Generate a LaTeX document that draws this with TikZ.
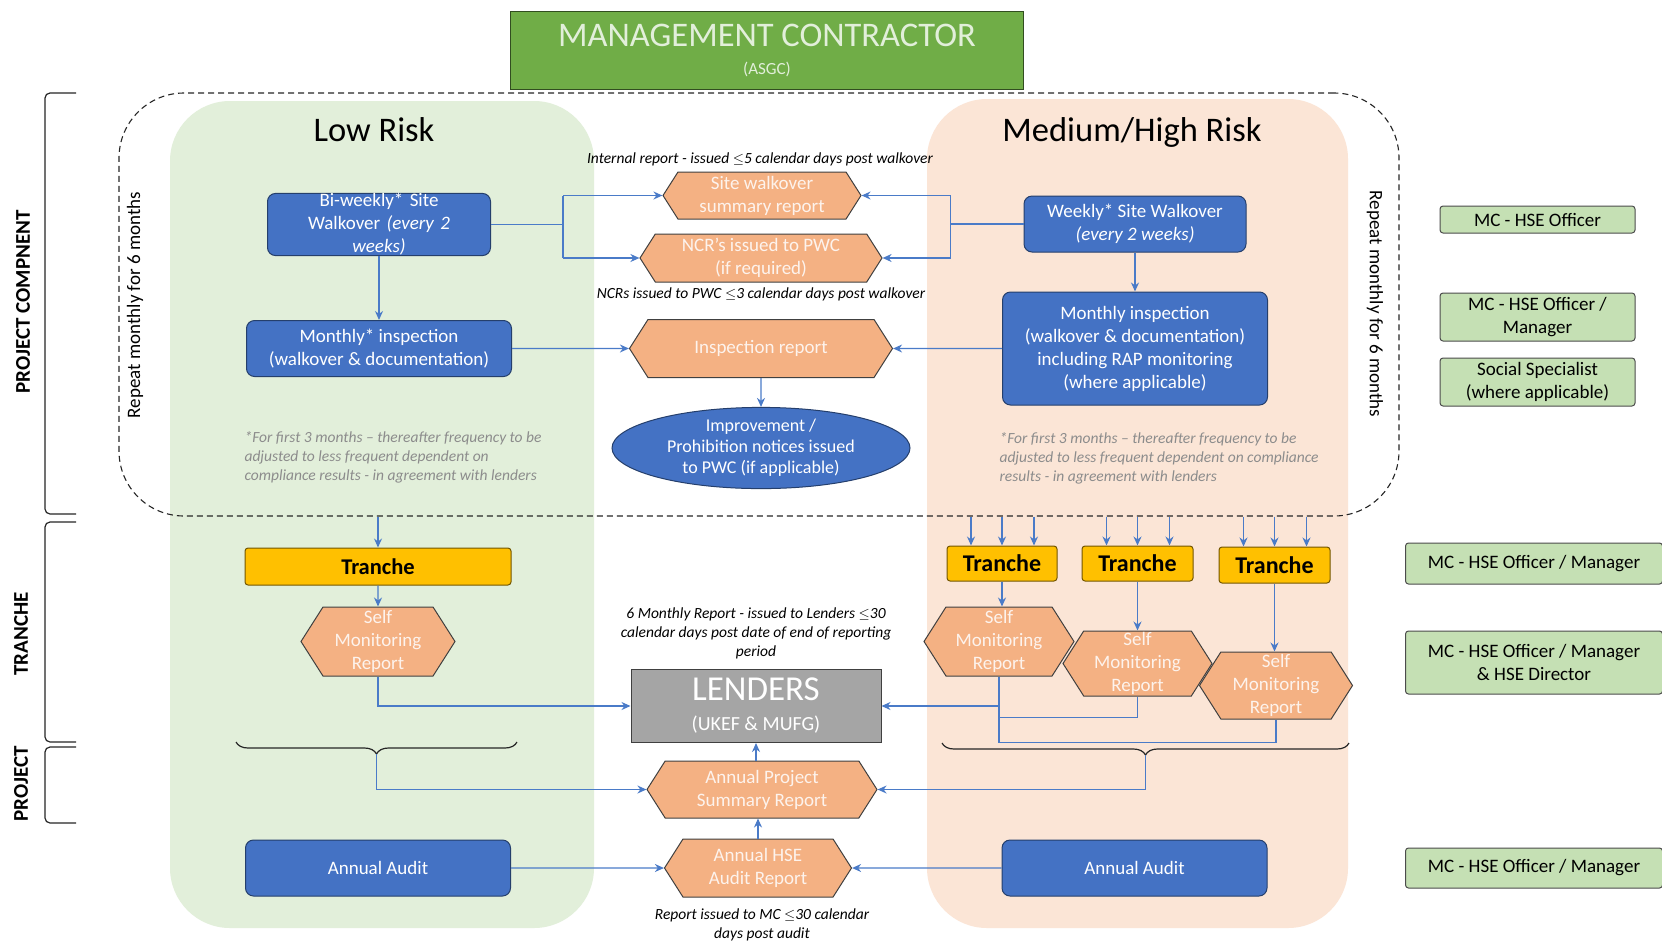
\documentclass[tikz,border=0pt]{standalone}
\usepackage{fontspec}
\setmainfont{Carlito}
\usetikzlibrary{arrows.meta,shapes.symbols,shapes.geometric,decorations.pathreplacing}

\definecolor{mcgreen}{HTML}{70AD47}
\definecolor{lowbg}{HTML}{E2EFDA}
\definecolor{medbg}{HTML}{FBE5D6}
\definecolor{boxblue}{HTML}{4472C4}
\definecolor{hexorange}{HTML}{F4B183}
\definecolor{rolegreen}{HTML}{C5E0B4}
\definecolor{tranchey}{HTML}{FFC000}
\definecolor{lendgray}{HTML}{A5A5A5}
\definecolor{linkblue}{HTML}{4A7BC8}
\definecolor{notegray}{HTML}{8C8C8C}

\tikzset{
  task/.style={draw=boxblue!55!black, fill=boxblue, rounded corners=8pt, text=white,
    align=center, inner sep=0pt, line width=1pt, font=\fontsize{19}{23}\selectfont},
  report/.style={signal, signal to=west and east, signal pointer angle=115,
    draw=black!75, fill=hexorange, text=medbg!45!white, align=center, inner sep=0pt,
    line width=1pt, font=\fontsize{19}{23}\selectfont},
  role/.style={draw=black!70, fill=rolegreen, rounded corners=3pt, align=center,
    inner sep=0pt, line width=1pt, font=\fontsize{19}{23}\selectfont},
  tranche/.style={draw=tranchey!45!black, fill=tranchey, rounded corners=3pt,
    inner sep=0pt, line width=1pt, font=\bfseries\fontsize{24}{26}\selectfont},
  note/.style={font=\itshape\fontsize{15.5}{19}\selectfont, align=center},
  greynote/.style={note, text=notegray, align=left, anchor=west},
  stage/.style={rotate=90, font=\bfseries\fontsize{21}{24}\selectfont},
  link/.style={draw=linkblue, line width=1.3pt, -{Stealth[length=9pt,width=8pt]}},
  wire/.style={draw=linkblue, line width=1.3pt},
  bracket/.style={draw=black!85, line width=1.2pt, rounded corners=5pt},
}

\begin{document}
\begin{tikzpicture}[x=1pt,y=-1pt]
\useasboundingbox[fill=white] (0,0) rectangle (1662,946);

% risk panels
\fill[lowbg, rounded corners=60pt] (170,101) rectangle (594,928);
\fill[medbg, rounded corners=60pt] (927,99) rectangle (1348,928);
\node[font=\fontsize{34.5}{38}\selectfont] (lowtitle) at (374,130) {Low Risk};
\node[font=\fontsize{34.5}{38}\selectfont] (medtitle) at (1132,132) {Medium/High Risk};

% management contractor
\node[draw=mcgreen!45!black, fill=mcgreen, line width=1pt, minimum width=513pt, minimum height=78pt,
  inner sep=0pt, align=center, text=lowbg, font=\fontsize{17}{33}\selectfont] (mc) at (767,50)
  {{\fontsize{34.5}{36}\selectfont MANAGEMENT CONTRACTOR}\\[-5pt](ASGC)};

% repeat area
\node[draw=black!85, dash pattern=on 6pt off 4pt, line width=1.1pt, rounded corners=65pt,
  minimum width=1280pt, minimum height=423pt, inner sep=0pt] (repeat) at (759,304.5) {};
\node[rotate=90, font=\fontsize{19}{22}\selectfont] (repeatL) at (135,305) {Repeat monthly for 6 months};
\node[rotate=-90, font=\fontsize{19}{22}\selectfont] (repeatR) at (1375,304) {Repeat monthly for 6 months};

% low risk column
\node[task, minimum width=223pt, minimum height=57pt, text width=200pt] (biweekly) at (379,224.5)
  {Bi-weekly* Site\\Walkover \textit{(every 2}\\\textit{weeks)}};
\node[task, minimum width=265pt, minimum height=56pt] (monthlyL) at (379,348.5)
  {Monthly* inspection\\(walkover \& documentation)};
\node[greynote] (noteL) at (241,457)
  {*For first 3 months -- thereafter frequency to be\\adjusted to less frequent dependent on\\compliance results - in agreement with lenders};
\node[tranche, minimum width=266pt, minimum height=37pt, font=\bfseries\fontsize{22.5}{26}\selectfont]
  (trancheL) at (378,566.5) {Tranche};
\node[report, minimum width=154pt, minimum height=69pt] (smrL) at (378,641.5) {Self\\Monitoring\\Report};
\node[task, minimum width=265pt, minimum height=56pt] (auditL) at (378,868) {Annual Audit};

% medium/high risk column
\node[task, minimum width=222pt, minimum height=56pt] (weekly) at (1135,224)
  {Weekly* Site Walkover\\\textit{(every 2 weeks)}};
\node[task, minimum width=265pt, minimum height=113pt] (monthlyR) at (1135,348.5)
  {Monthly inspection\\(walkover \& documentation)\\including RAP monitoring\\(where applicable)};
\node[greynote] (noteR) at (996,458)
  {*For first 3 months -- thereafter frequency to be\\adjusted to less frequent dependent on compliance\\results - in agreement with lenders};
\node[tranche, minimum width=110pt, minimum height=35pt] (tranche1) at (1002,563.5) {Tranche};
\node[tranche, minimum width=111pt, minimum height=35pt] (tranche2) at (1137.5,563.5) {Tranche};
\node[tranche, minimum width=111pt, minimum height=36pt] (tranche3) at (1274.5,565) {Tranche};
\node[report, minimum width=150pt, minimum height=69pt] (smr1) at (999,641.5) {Self\\Monitoring\\Report};
\node[report, minimum width=149pt, minimum height=65pt] (smr2) at (1137.5,663.5) {Self\\Monitoring\\Report};
\node[report, minimum width=153pt, minimum height=67pt] (smr3) at (1276,685.5) {Self\\Monitoring\\Report};
\node[task, minimum width=265pt, minimum height=56pt] (auditR) at (1134.5,868) {Annual Audit};

% reports in the middle
\node[note] (internal) at (760,159) {Internal report - issued \ensuremath{\leq}5 calendar days post walkover};
\node[report, minimum width=198pt, minimum height=47pt] (swsr) at (762,195.5) {Site walkover\\summary report};
\node[report, minimum width=242pt, minimum height=48pt] (ncr) at (761,258) {NCR's issued to PWC\\(if required)};
\node[note] (ncrnote) at (761,294) {NCRs issued to PWC \ensuremath{\leq}3 calendar days post walkover};
\node[report, minimum width=263pt, minimum height=58pt] (insp) at (761,348.5) {Inspection report};
\node[ellipse, draw=boxblue!55!black, fill=boxblue, line width=1pt, minimum width=298pt,
  minimum height=80pt, inner sep=0pt, align=center, text=white,
  font=\fontsize{18}{21}\selectfont] (notice) at (761,448)
  {Improvement /\\Prohibition notices issued\\to PWC (if applicable)};
\node[note] (sixmonth) at (756,633)
  {6 Monthly Report - issued to Lenders \ensuremath{\leq}30\\calendar days post date of end of reporting\\period};
\node[draw=black!75, fill=lendgray, line width=1pt, minimum width=250pt, minimum height=73pt,
  inner sep=0pt, align=center, text=white, font=\fontsize{20}{33}\selectfont] (lenders) at (756,706)
  {{\fontsize{35}{38}\selectfont LENDERS}\\[-3pt](UKEF \& MUFG)};
\node[report, minimum width=230pt, minimum height=57pt] (aps) at (762,789.5) {Annual Project\\Summary Report};
\node[report, minimum width=187pt, minimum height=58pt] (ahse) at (758,868) {Annual HSE\\Audit Report};
\node[note] (auditnote) at (762,925) {Report issued to MC \ensuremath{\leq}30 calendar\\days post audit};

% roles
\node[role, minimum width=195pt, minimum height=27pt] (role1) at (1537.5,219.5) {MC - HSE Officer};
\node[role, minimum width=195pt, minimum height=48pt] (role2) at (1537.5,317) {MC - HSE Officer /\\Manager};
\node[role, minimum width=195pt, minimum height=48pt] (role3) at (1537.5,382) {Social Specialist\\(where applicable)};
\node[role, minimum width=257pt, minimum height=41pt] (role4) at (1534,563.5) {MC - HSE Officer / Manager};
\node[role, minimum width=257pt, minimum height=63pt] (role5) at (1534,662.5) {MC - HSE Officer / Manager\\\& HSE Director};
\node[role, minimum width=257pt, minimum height=40pt] (role6) at (1534,868) {MC - HSE Officer / Manager};

% stage brackets
\draw[bracket] (76,93) -- (45,93) -- (45,514) -- (76,514);
\draw[bracket] (76,522) -- (45,522) -- (45,742) -- (76,742);
\draw[bracket] (76,747) -- (45,747) -- (45,823) -- (76,823);
\node[stage] (stagecomp) at (23,302) {PROJECT COMPNENT};
\node[stage] (stagetranche) at (21,634) {TRANCHE};
\node[stage] (stageproject) at (21,784) {PROJECT};

% walkover links
\draw[link] (biweekly) -- (monthlyL);
\draw[wire] (biweekly.east) -- ++(72,0) coordinate (splitL);
\draw[wire] (splitL |- swsr.west) -- (splitL |- ncr.west);
\draw[link] (splitL |- swsr.west) -- (swsr.west);
\draw[link] (splitL |- ncr.west) -- (ncr.west);
\draw[link] (weekly) -- (monthlyR);
\draw[wire] (weekly.west) -- ++(-73,0) coordinate (splitR);
\draw[wire] (splitR |- swsr.east) -- (splitR |- ncr.east);
\draw[link] (splitR |- swsr.east) -- (swsr.east);
\draw[link] (splitR |- ncr.east) -- (ncr.east);
\draw[link] (monthlyL) -- (insp);
\draw[link] (monthlyR) -- (insp);
\draw[link] (insp) -- (notice);

% tranche links
\draw[link] (repeat.south -| trancheL.north) -- (trancheL.north);
\foreach \t in {tranche1,tranche2,tranche3}
  \foreach \dx in {-31,0,32}
    \draw[link] ([xshift=\dx pt]\t.north |- repeat.south) -- ([xshift=\dx pt]\t.north);
\draw[link] (trancheL) -- (smrL);
\draw[link] (tranche1.south) -- (tranche1.south |- smr1.north);
\draw[link] (tranche2.south) -- (tranche2.south |- smr2.north);
\draw[link] (tranche3.south) -- (tranche3.south |- smr3.north);

% reporting to lenders
\draw[link] (smrL.south) |- (lenders.west);
\draw[wire] (smr1.south) -- ++(0,66) coordinate (smrbase);
\path (smr1.south) ++(0,41) coordinate (smrmid);
\draw[wire] (smr2.south) |- (smrmid);
\draw[wire] (smr3.south) |- (smrbase);
\draw[link] (smr1.south |- lenders.east) -- (lenders.east);

% project level
\draw[bracket, rounded corners=0pt, decorate, decoration={brace, amplitude=12pt}] (517,742) -- (236,742);
\draw[bracket, rounded corners=0pt, decorate, decoration={brace, amplitude=12pt}] (1349,743) -- (942,743);
\coordinate (braceL) at (376.5,754);
\coordinate (braceR) at (1145.5,755);
\draw[link] (braceL) |- (aps.west);
\draw[link] (braceR) |- (aps.east);
\draw[link] (auditL) -- (ahse);
\draw[link] (auditR) -- (ahse);
\draw[link] (ahse.north) -- (ahse.north |- aps.south);
\draw[link] (lenders.south |- aps.north) -- (lenders.south);
\end{tikzpicture}
\end{document}
